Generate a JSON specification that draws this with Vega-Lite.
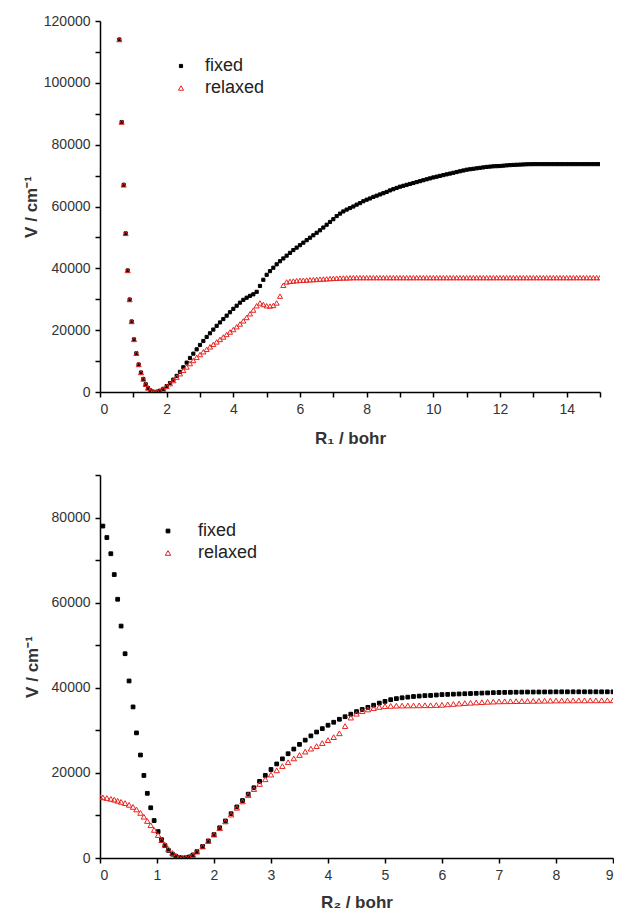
{
  "$schema": "https://vega.github.io/schema/vega-lite/v6.json",
  "padding": {"left": 22, "top": 14, "right": 0, "bottom": 0},
  "spacing": 28,
  "background": "white",
  "datasets": {
    "top": [
      {"x":0.58,"fixed":114000,"relaxed":114000},
      {"x":0.65,"fixed":87300,"relaxed":87300},
      {"x":0.71,"fixed":67000,"relaxed":67000},
      {"x":0.77,"fixed":51300,"relaxed":51300},
      {"x":0.83,"fixed":39300,"relaxed":39300},
      {"x":0.89,"fixed":29900,"relaxed":29900},
      {"x":0.95,"fixed":22800,"relaxed":22800},
      {"x":1.02,"fixed":17000,"relaxed":17000},
      {"x":1.09,"fixed":12500,"relaxed":12500},
      {"x":1.16,"fixed":8900,"relaxed":8900},
      {"x":1.23,"fixed":6300,"relaxed":6300},
      {"x":1.3,"fixed":4200,"relaxed":4200},
      {"x":1.37,"fixed":2500,"relaxed":2500},
      {"x":1.44,"fixed":1300,"relaxed":1300},
      {"x":1.51,"fixed":500,"relaxed":500},
      {"x":1.58,"fixed":120,"relaxed":120},
      {"x":1.65,"fixed":0,"relaxed":0},
      {"x":1.72,"fixed":100,"relaxed":100},
      {"x":1.8,"fixed":400,"relaxed":400},
      {"x":1.9,"fixed":1000,"relaxed":950},
      {"x":2.0,"fixed":1900,"relaxed":1800},
      {"x":2.1,"fixed":2900,"relaxed":2700},
      {"x":2.2,"fixed":4000,"relaxed":3700},
      {"x":2.3,"fixed":5200,"relaxed":4800},
      {"x":2.4,"fixed":6500,"relaxed":5900},
      {"x":2.5,"fixed":8000,"relaxed":7000},
      {"x":2.6,"fixed":9500,"relaxed":8100},
      {"x":2.7,"fixed":11000,"relaxed":9200},
      {"x":2.8,"fixed":12400,"relaxed":10200},
      {"x":2.9,"fixed":13800,"relaxed":11200},
      {"x":3.0,"fixed":15200,"relaxed":12100},
      {"x":3.1,"fixed":16500,"relaxed":13000},
      {"x":3.2,"fixed":17800,"relaxed":13800},
      {"x":3.3,"fixed":19000,"relaxed":14600},
      {"x":3.4,"fixed":20200,"relaxed":15400},
      {"x":3.5,"fixed":21400,"relaxed":16200},
      {"x":3.6,"fixed":22500,"relaxed":17000},
      {"x":3.7,"fixed":23600,"relaxed":17800},
      {"x":3.8,"fixed":24700,"relaxed":18600},
      {"x":3.9,"fixed":25800,"relaxed":19400},
      {"x":4.0,"fixed":26900,"relaxed":20200},
      {"x":4.1,"fixed":27900,"relaxed":21100},
      {"x":4.2,"fixed":28900,"relaxed":22000},
      {"x":4.3,"fixed":29800,"relaxed":23000},
      {"x":4.4,"fixed":30500,"relaxed":24100},
      {"x":4.5,"fixed":31100,"relaxed":25300},
      {"x":4.6,"fixed":31600,"relaxed":26500},
      {"x":4.7,"fixed":32400,"relaxed":27900},
      {"x":4.8,"fixed":34300,"relaxed":28800},
      {"x":4.9,"fixed":36300,"relaxed":28300},
      {"x":5.0,"fixed":37900,"relaxed":27900},
      {"x":5.1,"fixed":39100,"relaxed":27800},
      {"x":5.2,"fixed":40200,"relaxed":28000},
      {"x":5.3,"fixed":41300,"relaxed":28800},
      {"x":5.4,"fixed":42300,"relaxed":31000},
      {"x":5.5,"fixed":43200,"relaxed":34500},
      {"x":5.6,"fixed":44100,"relaxed":35600},
      {"x":5.7,"fixed":45000,"relaxed":35800},
      {"x":5.8,"fixed":45900,"relaxed":35900},
      {"x":5.9,"fixed":46700,"relaxed":36000},
      {"x":6.0,"fixed":47500,"relaxed":36100},
      {"x":6.1,"fixed":48300,"relaxed":36150},
      {"x":6.2,"fixed":49100,"relaxed":36200},
      {"x":6.3,"fixed":49900,"relaxed":36300},
      {"x":6.4,"fixed":50700,"relaxed":36350},
      {"x":6.5,"fixed":51500,"relaxed":36400},
      {"x":6.6,"fixed":52300,"relaxed":36500},
      {"x":6.7,"fixed":53200,"relaxed":36550},
      {"x":6.8,"fixed":54100,"relaxed":36600},
      {"x":6.9,"fixed":55000,"relaxed":36700},
      {"x":7.0,"fixed":55900,"relaxed":36750},
      {"x":7.1,"fixed":56900,"relaxed":36800},
      {"x":7.2,"fixed":57700,"relaxed":36850},
      {"x":7.3,"fixed":58400,"relaxed":36900},
      {"x":7.4,"fixed":59000,"relaxed":36900},
      {"x":7.5,"fixed":59500,"relaxed":36950},
      {"x":7.6,"fixed":60000,"relaxed":37000},
      {"x":7.7,"fixed":60600,"relaxed":37000},
      {"x":7.8,"fixed":61100,"relaxed":37000},
      {"x":7.9,"fixed":61700,"relaxed":37000},
      {"x":8.0,"fixed":62200,"relaxed":37000},
      {"x":8.1,"fixed":62600,"relaxed":37000},
      {"x":8.2,"fixed":63100,"relaxed":37000},
      {"x":8.3,"fixed":63500,"relaxed":37000},
      {"x":8.4,"fixed":63900,"relaxed":37000},
      {"x":8.5,"fixed":64300,"relaxed":37000},
      {"x":8.6,"fixed":64700,"relaxed":37000},
      {"x":8.7,"fixed":65200,"relaxed":37000},
      {"x":8.8,"fixed":65600,"relaxed":37000},
      {"x":8.9,"fixed":66000,"relaxed":37000},
      {"x":9.0,"fixed":66400,"relaxed":37000},
      {"x":9.1,"fixed":66700,"relaxed":37000},
      {"x":9.2,"fixed":67000,"relaxed":37000},
      {"x":9.3,"fixed":67300,"relaxed":37000},
      {"x":9.4,"fixed":67600,"relaxed":37000},
      {"x":9.5,"fixed":67900,"relaxed":37000},
      {"x":9.6,"fixed":68200,"relaxed":37000},
      {"x":9.7,"fixed":68500,"relaxed":37000},
      {"x":9.8,"fixed":68800,"relaxed":37000},
      {"x":9.9,"fixed":69100,"relaxed":37000},
      {"x":10.0,"fixed":69400,"relaxed":37000},
      {"x":10.1,"fixed":69650,"relaxed":37000},
      {"x":10.2,"fixed":69900,"relaxed":37000},
      {"x":10.3,"fixed":70150,"relaxed":37000},
      {"x":10.4,"fixed":70400,"relaxed":37000},
      {"x":10.5,"fixed":70650,"relaxed":37000},
      {"x":10.6,"fixed":70900,"relaxed":37000},
      {"x":10.7,"fixed":71150,"relaxed":37000},
      {"x":10.8,"fixed":71400,"relaxed":37000},
      {"x":10.9,"fixed":71650,"relaxed":37000},
      {"x":11.0,"fixed":71900,"relaxed":37000},
      {"x":11.1,"fixed":72050,"relaxed":37000},
      {"x":11.2,"fixed":72200,"relaxed":37000},
      {"x":11.3,"fixed":72350,"relaxed":37000},
      {"x":11.4,"fixed":72500,"relaxed":37000},
      {"x":11.5,"fixed":72650,"relaxed":37000},
      {"x":11.6,"fixed":72800,"relaxed":37000},
      {"x":11.7,"fixed":72900,"relaxed":37000},
      {"x":11.8,"fixed":73000,"relaxed":37000},
      {"x":11.9,"fixed":73050,"relaxed":37000},
      {"x":12.0,"fixed":73100,"relaxed":37000},
      {"x":12.1,"fixed":73200,"relaxed":37000},
      {"x":12.2,"fixed":73300,"relaxed":37000},
      {"x":12.3,"fixed":73380,"relaxed":37000},
      {"x":12.4,"fixed":73450,"relaxed":37000},
      {"x":12.5,"fixed":73500,"relaxed":37000},
      {"x":12.6,"fixed":73550,"relaxed":37000},
      {"x":12.7,"fixed":73600,"relaxed":37000},
      {"x":12.8,"fixed":73650,"relaxed":37000},
      {"x":12.9,"fixed":73680,"relaxed":37000},
      {"x":13.0,"fixed":73700,"relaxed":37000},
      {"x":13.1,"fixed":73700,"relaxed":37000},
      {"x":13.2,"fixed":73700,"relaxed":37000},
      {"x":13.3,"fixed":73700,"relaxed":37000},
      {"x":13.4,"fixed":73700,"relaxed":37000},
      {"x":13.5,"fixed":73700,"relaxed":37000},
      {"x":13.6,"fixed":73700,"relaxed":37000},
      {"x":13.7,"fixed":73700,"relaxed":37000},
      {"x":13.8,"fixed":73700,"relaxed":37000},
      {"x":13.9,"fixed":73700,"relaxed":37000},
      {"x":14.0,"fixed":73700,"relaxed":37000},
      {"x":14.1,"fixed":73700,"relaxed":37000},
      {"x":14.2,"fixed":73700,"relaxed":37000},
      {"x":14.3,"fixed":73700,"relaxed":37000},
      {"x":14.4,"fixed":73700,"relaxed":37000},
      {"x":14.5,"fixed":73700,"relaxed":37000},
      {"x":14.6,"fixed":73700,"relaxed":37000},
      {"x":14.7,"fixed":73700,"relaxed":37000},
      {"x":14.8,"fixed":73700,"relaxed":37000},
      {"x":14.9,"fixed":73700,"relaxed":37000},
      {"x":15.0,"fixed":73700,"relaxed":37000}
    ],
    "bot": [
      {"x":0.0,"relaxed":14300},
      {"x":0.05,"fixed":78000,"relaxed":14250},
      {"x":0.12,"fixed":75300,"relaxed":14100},
      {"x":0.19,"fixed":71500,"relaxed":13900},
      {"x":0.25,"fixed":66600,"relaxed":13700},
      {"x":0.31,"fixed":60800,"relaxed":13450},
      {"x":0.37,"fixed":54500,"relaxed":13200},
      {"x":0.44,"fixed":48000,"relaxed":12900},
      {"x":0.51,"fixed":41600,"relaxed":12500},
      {"x":0.58,"fixed":35500,"relaxed":12000},
      {"x":0.64,"fixed":29400,"relaxed":11400},
      {"x":0.71,"fixed":24200,"relaxed":10600},
      {"x":0.77,"fixed":19400,"relaxed":9700},
      {"x":0.83,"fixed":15200,"relaxed":8700},
      {"x":0.89,"fixed":11800,"relaxed":7700},
      {"x":0.95,"fixed":8800,"relaxed":6600},
      {"x":1.02,"fixed":6200,"relaxed":5400},
      {"x":1.08,"fixed":4300,"relaxed":4200},
      {"x":1.14,"fixed":2900,"relaxed":3100},
      {"x":1.2,"fixed":1800,"relaxed":2100},
      {"x":1.27,"fixed":900,"relaxed":1200},
      {"x":1.33,"fixed":400,"relaxed":550},
      {"x":1.39,"fixed":100,"relaxed":150},
      {"x":1.45,"fixed":0,"relaxed":0},
      {"x":1.51,"fixed":50,"relaxed":50},
      {"x":1.57,"fixed":250,"relaxed":250},
      {"x":1.63,"fixed":700,"relaxed":700},
      {"x":1.7,"fixed":1500,"relaxed":1500},
      {"x":1.8,"fixed":2700,"relaxed":2700},
      {"x":1.9,"fixed":4000,"relaxed":4000},
      {"x":2.0,"fixed":5500,"relaxed":5500},
      {"x":2.1,"fixed":7100,"relaxed":7000},
      {"x":2.2,"fixed":8700,"relaxed":8600},
      {"x":2.3,"fixed":10400,"relaxed":10200},
      {"x":2.4,"fixed":12000,"relaxed":11800},
      {"x":2.5,"fixed":13500,"relaxed":13300},
      {"x":2.6,"fixed":15000,"relaxed":14800},
      {"x":2.7,"fixed":16500,"relaxed":16200},
      {"x":2.8,"fixed":18000,"relaxed":17400},
      {"x":2.9,"fixed":19400,"relaxed":18500},
      {"x":3.0,"fixed":20800,"relaxed":19600},
      {"x":3.1,"fixed":22100,"relaxed":20600},
      {"x":3.2,"fixed":23300,"relaxed":21600},
      {"x":3.3,"fixed":24500,"relaxed":22500},
      {"x":3.4,"fixed":25600,"relaxed":23400},
      {"x":3.5,"fixed":26700,"relaxed":24200},
      {"x":3.6,"fixed":27700,"relaxed":25000},
      {"x":3.7,"fixed":28700,"relaxed":25700},
      {"x":3.8,"fixed":29600,"relaxed":26300},
      {"x":3.9,"fixed":30400,"relaxed":27000},
      {"x":4.0,"fixed":31200,"relaxed":27700},
      {"x":4.1,"fixed":31900,"relaxed":28400},
      {"x":4.2,"fixed":32600,"relaxed":29300},
      {"x":4.3,"fixed":33200,"relaxed":31000},
      {"x":4.4,"fixed":33800,"relaxed":33000},
      {"x":4.5,"fixed":34400,"relaxed":33900},
      {"x":4.6,"fixed":34900,"relaxed":34500},
      {"x":4.7,"fixed":35400,"relaxed":34900},
      {"x":4.8,"fixed":35900,"relaxed":35200},
      {"x":4.9,"fixed":36400,"relaxed":35500},
      {"x":5.0,"fixed":36800,"relaxed":35700},
      {"x":5.1,"fixed":37200,"relaxed":35750},
      {"x":5.2,"fixed":37450,"relaxed":35800},
      {"x":5.3,"fixed":37650,"relaxed":35820},
      {"x":5.4,"fixed":37800,"relaxed":35840},
      {"x":5.5,"fixed":37950,"relaxed":35850},
      {"x":5.6,"fixed":38050,"relaxed":35870},
      {"x":5.7,"fixed":38150,"relaxed":35890},
      {"x":5.8,"fixed":38200,"relaxed":35900},
      {"x":5.9,"fixed":38300,"relaxed":35950},
      {"x":6.0,"fixed":38400,"relaxed":36000},
      {"x":6.1,"fixed":38450,"relaxed":36100},
      {"x":6.2,"fixed":38500,"relaxed":36200},
      {"x":6.3,"fixed":38550,"relaxed":36300},
      {"x":6.4,"fixed":38600,"relaxed":36400},
      {"x":6.5,"fixed":38650,"relaxed":36480},
      {"x":6.6,"fixed":38700,"relaxed":36550},
      {"x":6.7,"fixed":38750,"relaxed":36620},
      {"x":6.8,"fixed":38800,"relaxed":36700},
      {"x":6.9,"fixed":38850,"relaxed":36750},
      {"x":7.0,"fixed":38900,"relaxed":36800},
      {"x":7.1,"fixed":38920,"relaxed":36820},
      {"x":7.2,"fixed":38940,"relaxed":36840},
      {"x":7.3,"fixed":38960,"relaxed":36860},
      {"x":7.4,"fixed":38980,"relaxed":36880},
      {"x":7.5,"fixed":39000,"relaxed":36900},
      {"x":7.6,"fixed":39000,"relaxed":36920},
      {"x":7.7,"fixed":39010,"relaxed":36940},
      {"x":7.8,"fixed":39020,"relaxed":36960},
      {"x":7.9,"fixed":39030,"relaxed":36980},
      {"x":8.0,"fixed":39040,"relaxed":37000},
      {"x":8.1,"fixed":39050,"relaxed":37010},
      {"x":8.2,"fixed":39050,"relaxed":37020},
      {"x":8.3,"fixed":39050,"relaxed":37020},
      {"x":8.4,"fixed":39050,"relaxed":37030},
      {"x":8.5,"fixed":39050,"relaxed":37030},
      {"x":8.6,"fixed":39050,"relaxed":37040},
      {"x":8.7,"fixed":39050,"relaxed":37040},
      {"x":8.8,"fixed":39050,"relaxed":37050},
      {"x":8.9,"fixed":39050,"relaxed":37050},
      {"x":9.0,"fixed":39050,"relaxed":37050}
    ]
  },
  "vconcat": [
    {
      "width": 500,
      "height": 371,
      "data": {"name": "top"},
      "transform": [
        {"fold": ["fixed", "relaxed"], "as": ["series", "V"]},
        {"filter": "isValid(datum.V)"}
      ],
      "mark": {"type": "point", "opacity": 1, "strokeWidth": 1, "clip": true},
      "encoding": {
        "x": {"field": "x", "type": "quantitative",
          "scale": {"domain": [0, 15], "nice": false, "zero": false},
          "axis": {"title": "R₁ / bohr", "format": "d", "values": [0,1,2,3,4,5,6,7,8,9,10,11,12,13,14,15],
            "labelExpr": "datum.value % 2 === 0 ? datum.label : ''", "titlePadding": 14}},
        "y": {"field": "V", "type": "quantitative",
          "scale": {"domain": [0, 120000], "nice": false},
          "axis": {"title": "V / cm⁻¹", "format": "d",
            "values": [0,10000,20000,30000,40000,50000,60000,70000,80000,90000,100000,110000,120000],
            "labelExpr": "datum.value % 20000 === 0 ? datum.label : ''", "titlePadding": 3}},
        "shape": {"field": "series", "type": "nominal",
          "scale": {"domain": ["fixed", "relaxed"], "range": ["square", "triangle-up"]},
          "legend": {"title": null, "legendX": 72, "legendY": 36, "labelOffset": 15}},
        "fill": {"field": "series", "type": "nominal",
          "scale": {"domain": ["fixed", "relaxed"], "range": ["#000000", "transparent"]},
          "legend": {"title": null, "legendX": 72, "legendY": 36, "labelOffset": 15}},
        "stroke": {"field": "series", "type": "nominal",
          "scale": {"domain": ["fixed", "relaxed"], "range": ["#000000", "#e8231f"]},
          "legend": {"title": null, "legendX": 72, "legendY": 36, "labelOffset": 15}},
        "size": {"field": "series", "type": "nominal",
          "scale": {"domain": ["fixed", "relaxed"], "range": [10, 26]},
          "legend": {"title": null, "legendX": 72, "legendY": 36, "labelOffset": 15}},
        "order": {"field": "series", "sort": "ascending"}
      }
    },
    {
      "width": 513,
      "height": 383,
      "data": {"name": "bot"},
      "transform": [
        {"fold": ["fixed", "relaxed"], "as": ["series", "V"]},
        {"filter": "isValid(datum.V)"}
      ],
      "mark": {"type": "point", "opacity": 1, "strokeWidth": 1, "clip": true},
      "encoding": {
        "x": {"field": "x", "type": "quantitative",
          "scale": {"domain": [0, 9], "nice": false, "zero": false},
          "axis": {"title": "R₂ / bohr", "format": "d", "values": [0,0.5,1,1.5,2,2.5,3,3.5,4,4.5,5,5.5,6,6.5,7,7.5,8,8.5,9],
            "labelExpr": "datum.value % 1 === 0 ? datum.label : ''", "titlePadding": 12}},
        "y": {"field": "V", "type": "quantitative",
          "scale": {"domain": [0, 90000], "nice": false},
          "axis": {"title": "V / cm⁻¹", "format": "d",
            "values": [0,10000,20000,30000,40000,50000,60000,70000,80000,90000],
            "labelExpr": "datum.value % 20000 === 0 ? datum.label : ''", "titlePadding": 10}},
        "shape": {"field": "series", "type": "nominal",
          "scale": {"domain": ["fixed", "relaxed"], "range": ["square", "triangle-up"]},
          "legend": {"title": null, "legendX": 59, "legendY": 47, "labelOffset": 21}},
        "fill": {"field": "series", "type": "nominal",
          "scale": {"domain": ["fixed", "relaxed"], "range": ["#000000", "transparent"]},
          "legend": {"title": null, "legendX": 59, "legendY": 47, "labelOffset": 21}},
        "stroke": {"field": "series", "type": "nominal",
          "scale": {"domain": ["fixed", "relaxed"], "range": ["#000000", "#e8231f"]},
          "legend": {"title": null, "legendX": 59, "legendY": 47, "labelOffset": 21}},
        "size": {"field": "series", "type": "nominal",
          "scale": {"domain": ["fixed", "relaxed"], "range": [14, 30]},
          "legend": {"title": null, "legendX": 59, "legendY": 47, "labelOffset": 21}},
        "order": {"field": "series", "sort": "ascending"}
      }
    }
  ],
  "resolve": {"scale": {"shape": "independent", "fill": "independent", "stroke": "independent", "size": "independent"}, "legend": {"shape": "independent", "fill": "independent", "stroke": "independent", "size": "independent"}},
  "config": {
    "font": "Liberation Sans",
    "view": {"stroke": null},
    "axis": {
      "grid": false,
      "domainColor": "#000000", "domainWidth": 1.5,
      "tickColor": "#000000", "tickWidth": 1.5, "tickSize": 5,
      "labelColor": "#333333", "labelFontSize": 14, "labelFont": "Liberation Sans", "labelPadding": 5,
      "titleFont": "Liberation Sans", "titleFontSize": 17, "titleFontWeight": "bold", "titleColor": "#333333"
    },
    "legend": {
      "orient": "none",
      "labelFont": "Liberation Sans", "labelFontSize": 18, "labelColor": "#222222",
      "rowPadding": 4, "symbolStrokeWidth": 1
    }
  }
}
